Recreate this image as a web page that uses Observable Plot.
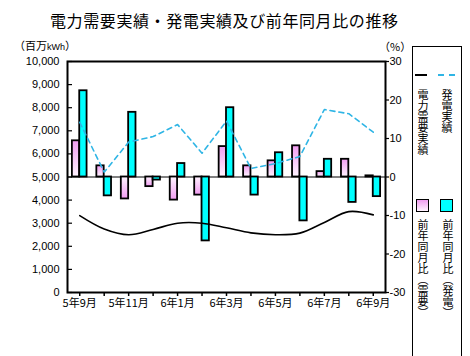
<!DOCTYPE html>
<html><head><meta charset="utf-8">
<script src="https://cdn.jsdelivr.net/npm/d3@7"></script>
<script src="https://cdn.jsdelivr.net/npm/@observablehq/plot@0.6"></script>
<style>
body{margin:0;background:#fff;}
#wrap{position:relative;width:470px;height:356px;overflow:hidden;background:#fff;font-family:"Liberation Sans",Arial,sans-serif;}
.abs{position:absolute;}
.cjk{font-family:"Noto Sans CJK JP","Noto Sans",sans-serif;}
.vt{writing-mode:vertical-rl;font-size:11px;line-height:11px;font-family:"Noto Sans CJK JP",sans-serif;white-space:nowrap;}
#chart{position:absolute;left:0;top:40px;}
</style></head>
<body>
<svg width="0" height="0" style="position:absolute">
  <defs>
    <linearGradient id="pinkUp" x1="0" y1="0" x2="0" y2="1">
      <stop offset="0" stop-color="#f09cf0"/><stop offset="1" stop-color="#fff4ff"/>
    </linearGradient>
    <linearGradient id="pinkDown" x1="0" y1="0" x2="0" y2="1">
      <stop offset="0" stop-color="#fff4ff"/><stop offset="1" stop-color="#f09cf0"/>
    </linearGradient>
  </defs>
</svg>
<div id="wrap">
  <div id="chart"></div>
  <div class="abs cjk" style="left:50px;top:10px;font-size:16px;line-height:20px;letter-spacing:0.6px;white-space:nowrap;">電力需要実績・発電実績及び前年同月比の推移</div>
  <div class="abs cjk" style="left:14px;top:38px;font-size:11px;line-height:14px;white-space:nowrap;">（百万<span style="font-size:9px;font-family:'Liberation Sans',Arial">kWh</span>）</div>
  <div class="abs cjk" style="left:379px;top:39px;font-size:11px;line-height:14px;white-space:nowrap;">（%）</div>
  <div class="abs" style="left:412px;top:46px;width:48px;height:340px;border:1px solid #000;"></div>
  <div class="abs" style="left:415px;top:74px;width:12px;height:2px;background:#000;"></div>
  <div class="abs" style="left:438px;top:74px;width:6px;height:2px;background:#2fb5e5;"></div>
  <div class="abs" style="left:449px;top:74px;width:6px;height:2px;background:#2fb5e5;"></div>
  <div class="abs vt" style="left:417px;top:89px;">電力需要実績</div>
  <div class="abs vt" style="left:441px;top:89px;">発電実績</div>
  <div class="abs" style="left:416px;top:199px;width:11px;height:11px;border:1.5px solid #000;background:linear-gradient(#f09cf0,#fff4ff);"></div>
  <div class="abs" style="left:440px;top:199px;width:11px;height:11px;border:1.5px solid #000;background:#00ffff;"></div>
  <div class="abs vt" style="left:417px;top:219px;">前年同月比（需要）</div>
  <div class="abs vt" style="left:442px;top:219px;">前年同月比（発電）</div>
</div>
<script>
const months = ["5年9月","5年10月","5年11月","5年12月","6年1月","6年2月","6年3月","6年4月","6年5月","6年6月","6年7月","6年8月","6年9月"];
const demand = [3330, 2750, 2500, 2730, 3000, 3000, 2800, 2580, 2500, 2570, 3030, 3500, 3360];
const generation = [7370, 5210, 6510, 6750, 7270, 6030, 7420, 5370, 5580, 5890, 7920, 7740, 6940];
const demandPct = [9.4, 2.9, -5.7, -2.5, -6.0, -4.7, 7.9, 2.9, 4.2, 8.1, 1.4, 4.6, 0.3];
const genPct = [22.4, -4.9, 16.8, -0.8, 3.5, -16.6, 18.0, -4.7, 6.3, -11.4, 4.6, -6.6, -5.1];
const leftTicks = [0,1000,2000,3000,4000,5000,6000,7000,8000,9000,10000];
const rightTicks = [-30,-20,-10,0,10,20,30];

const toY = p => 5000 + p * 5000 / 30;
const rows = months.map((m, i) => ({i, m, demand: demand[i], gen: generation[i], dp: demandPct[i], gp: genPct[i]}));

const chart = Plot.plot({
  width: 470, height: 316,
  marginLeft: 67, marginRight: 85, marginTop: 21, marginBottom: 64,
  x: {domain: [-0.5, 12.5]},
  y: {domain: [0, 10000]},
  style: {fontFamily: "'Liberation Sans', Arial, sans-serif", fontSize: "11px", color: "black", background: "transparent", overflow: "visible"},
  marks: [
    Plot.ruleY([5000], {stroke: "black", strokeWidth: 1}),
    Plot.rectY(rows.filter(d => d.dp >= 0), {x1: d => d.i - 0.3, x2: d => d.i, y1: 5000, y2: d => toY(d.dp), fill: "url(#pinkUp)", stroke: "black", strokeWidth: 1.8}),
    Plot.rectY(rows.filter(d => d.dp < 0), {x1: d => d.i - 0.3, x2: d => d.i, y1: 5000, y2: d => toY(d.dp), fill: "url(#pinkDown)", stroke: "black", strokeWidth: 1.8}),
    Plot.rectY(rows, {x1: d => d.i, x2: d => d.i + 0.3, y1: 5000, y2: d => toY(d.gp), fill: "#00ffff", stroke: "black", strokeWidth: 1.8}),
    Plot.line(rows, {x: "i", y: "gen", stroke: "#2fb5e5", strokeWidth: 1.6, strokeDasharray: "5,4"}),
    Plot.line(rows, {x: "i", y: "demand", stroke: "black", strokeWidth: 1.6, curve: "catmull-rom"}),
    Plot.tickY(leftTicks, {y: d => d, insetRight: 313, stroke: "black", strokeWidth: 1.2}),
    Plot.axisY(leftTicks, {anchor: "left", tickSize: 0, tickPadding: 8, tickFormat: d3.format(","), label: null}),
    Plot.axisY(rightTicks.map(toY), {anchor: "right", tickSize: 3, tickPadding: 1, strokeWidth: 1.2, label: null,
      tickFormat: y => String(Math.round((y - 5000) * 30 / 5000))}),
    Plot.axisX(months.map((m, i) => i), {anchor: "bottom", tickSize: 4, tickPadding: 3, strokeWidth: 1.5, label: null,
      fontFamily: "'Noto Sans CJK JP', sans-serif", tickFormat: i => i % 2 === 0 ? months[i] : ""}),
    Plot.frame({stroke: "black", strokeWidth: 2})
  ]
});
document.getElementById("chart").appendChild(chart);
</script>
</body></html>
